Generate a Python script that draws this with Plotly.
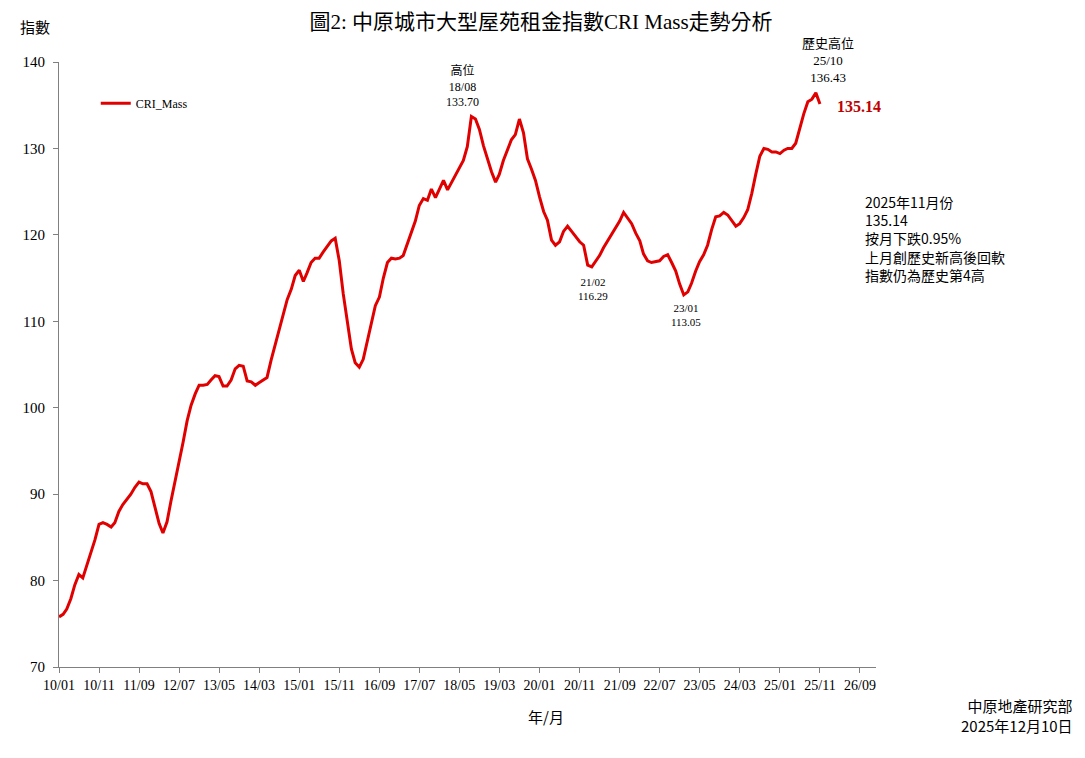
import pandas as pd
import plotly.graph_objects as go

# Monthly CRI Mass index, 2010/01 - 2025/11
start_month = "2010-01-01"
cri_mass = [
    75.8, 76.1, 76.7, 77.9, 79.5, 80.7, 80.3, 81.8, 83.5, 84.7,   # 2010/01-10
    86.5, 86.7, 86.5, 86.2, 86.7, 88.0, 88.8, 89.4, 90.0, 90.8,   # 2010/11-2011/08
    91.4, 91.2, 91.2, 90.3, 88.5, 86.6, 85.5, 86.8, 89.2, 91.5,   # 2011/09-2012/06
    93.3, 96.0, 98.5, 100.3, 101.6, 102.6, 102.6, 102.7, 103.2, 103.7,  # 2012/07-2013/04
    103.6, 102.5, 102.5, 103.2, 104.5, 104.9, 104.8, 103.1, 103.0, 102.6,  # 2013/05-2014/02
    102.9, 103.2, 103.5, 105.5, 107.2, 109.0, 111.0, 112.5, 113.7, 115.3,  # 2014/03-2014/12
    115.9, 114.6, 115.6, 116.8, 117.3, 117.3, 118.0, 118.7, 119.3, 119.6,  # 2015/01-2015/10
    117.0, 113.2, 109.8, 106.8, 105.2, 104.7, 105.6, 107.6, 109.5, 111.8,  # 2015/11-2016/08
    112.8, 115.0, 116.8, 117.3, 117.2, 117.3, 117.6, 118.9, 120.2, 121.6,  # 2016/09-2017/06
    123.4, 124.2, 124.0, 125.3, 124.3, 125.2, 126.3, 125.2, 126.0, 126.9,  # 2017/07-2018/04
    127.8, 128.6, 130.2, 133.70, 133.4, 132.2, 130.3, 128.8, 127.3, 126.1,  # 2018/05-2019/02
    127.0, 128.6, 129.7, 131.0, 131.6, 133.4, 131.8, 128.8, 127.6, 126.3,  # 2019/03-2019/12
    124.4, 122.7, 121.7, 119.4, 118.8, 119.2, 120.4, 121.0, 120.4, 119.8,  # 2020/01-2020/10
    119.2, 118.8, 116.5, 116.29, 116.9, 117.6, 118.5, 119.3, 120.1, 120.9,  # 2020/11-2021/08
    121.6, 122.6, 122.0, 121.3, 120.2, 119.3, 117.8, 117.0, 116.8, 116.9,  # 2021/09-2022/06
    117.0, 117.5, 117.7, 116.8, 115.8, 114.3, 113.05, 113.4, 114.4, 115.8,  # 2022/07-2023/04
    116.9, 117.7, 118.8, 120.6, 122.1, 122.2, 122.6, 122.3, 121.6, 121.0,  # 2023/05-2024/02
    121.3, 122.0, 122.9, 124.8, 127.0, 129.1, 130.0, 129.9, 129.6, 129.6,  # 2024/03-2024/12
    129.4, 129.8, 130.0, 130.0, 130.6, 132.4, 134.0, 135.4, 135.7, 136.43,  # 2025/01-2025/10
    135.14,                                                                  # 2025/11
]
series_name = "CRI_Mass"

# Labelled points
peak_2018 = ("2018-08-01", "18/08", 133.70)
low_2021 = ("2021-02-01", "21/02", 116.29)
low_2023 = ("2023-01-01", "23/01", 113.05)
peak_2025 = ("2025-10-01", "25/10", 136.43)
latest = ("2025-11-01", 135.14)

note_lines = ["2025年11月份", "135.14", "按月下跌0.95%", "上月創歷史新高後回軟", "指數仍為歷史第4高"]
source_lines = ["中原地產研究部", "2025年12月10日"]
title_text = "圖2: 中原城市大型屋苑租金指數CRI Mass走勢分析"

months = pd.date_range(start_month, periods=len(cri_mass), freq="MS")
tick_dates = pd.date_range("2010-01-01", "2026-09-01", freq="10MS")
tick_text = [d.strftime("%y/%m") for d in tick_dates]

SERIF = "Liberation Serif, Noto Sans CJK TC, serif"
CJK = "Noto Sans CJK TC, sans-serif"
RED = "#E00000"

fig = go.Figure()
fig.add_trace(go.Scatter(
    x=months, y=cri_mass, mode="lines", name=series_name,
    line=dict(color=RED, width=3),
))

ann = []
ann.append(dict(x=peak_2018[0], y=peak_2018[2], xref="x", yref="y",
                text=f"高位<br>{peak_2018[1]}<br>{peak_2018[2]:.2f}",
                showarrow=False, xanchor="center", yanchor="bottom",
                xshift=-9, yshift=5, font=dict(family=SERIF, size=12, color="black")))
ann.append(dict(x=peak_2025[0], y=peak_2025[2], xref="x", yref="y",
                text=f"歷史高位<br>{peak_2025[1]}<br>{peak_2025[2]:.2f}",
                showarrow=False, xanchor="center", yanchor="bottom",
                xshift=12, yshift=6, font=dict(family=SERIF, size=13, color="black")))
for d, lab, v, xs, ys in [(low_2021[0], low_2021[1], low_2021[2], 1, -7),
                          (low_2023[0], low_2023[1], low_2023[2], 2, -5)]:
    ann.append(dict(x=d, y=v, xref="x", yref="y", text=f"{lab}<br>{v:.2f}",
                    showarrow=False, xanchor="center", yanchor="top",
                    xshift=xs, yshift=ys, font=dict(family=SERIF, size=11, color="black")))
ann.append(dict(x=latest[0], y=latest[1], xref="x", yref="y", text=f"<b>{latest[1]:.2f}</b>",
                showarrow=False, xanchor="left", yanchor="middle", xshift=15, yshift=-2,
                font=dict(family=SERIF, size=16, color="#C00000")))
ann.append(dict(x=0.9845, y=0.788, xref="paper", yref="paper", text="<br>".join(note_lines),
                showarrow=False, xanchor="left", yanchor="top", align="left",
                font=dict(family=CJK, size=14, color="black")))
ann.append(dict(x=1.244, y=-0.080, xref="paper", yref="paper", text="<br>".join(source_lines),
                showarrow=False, xanchor="right", yanchor="middle", align="right",
                font=dict(family=CJK, size=15, color="black")))
ann.append(dict(x=0.596, y=-0.081, xref="paper", yref="paper", text="年/月",
                showarrow=False, xanchor="center", yanchor="middle",
                font=dict(family=CJK, size=15, color="black")))
ann.append(dict(x=-0.029, y=1.058, xref="paper", yref="paper", text="指數",
                showarrow=False, xanchor="center", yanchor="middle",
                font=dict(family=CJK, size=15, color="black")))

# page body has an 8px margin, so the figure is drawn 16px smaller and shifted
fig.update_layout(
    width=1069, height=742,
    margin=dict(l=51, r=201, t=54, b=83),
    paper_bgcolor="white", plot_bgcolor="white",
    title=dict(text=title_text, x=0.4986, y=0.981, xanchor="center", yanchor="middle",
               font=dict(family=SERIF, size=21, color="black")),
    showlegend=True,
    legend=dict(x=0.045, y=0.932, xanchor="left", yanchor="middle",
                bgcolor="rgba(0,0,0,0)", font=dict(family=SERIF, size=12, color="black")),
    annotations=ann,
)
fig.update_xaxes(
    type="date", range=["2010-01-01", "2027-01-01"],
    tickvals=tick_dates, ticktext=tick_text,
    showgrid=False, zeroline=False, showline=True, linecolor="#808080", linewidth=1,
    ticks="outside", ticklen=5, tickcolor="#808080",
    tickfont=dict(family=SERIF, size=14, color="black"),
)
fig.update_yaxes(
    range=[70, 140], dtick=10, tick0=70,
    showgrid=False, zeroline=False, showline=True, linecolor="#808080", linewidth=1,
    ticks="outside", ticklen=5, tickcolor="#808080", ticklabelstandoff=5,
    tickfont=dict(family=SERIF, size=15, color="black"),
)

fig.write_html("out.html")
